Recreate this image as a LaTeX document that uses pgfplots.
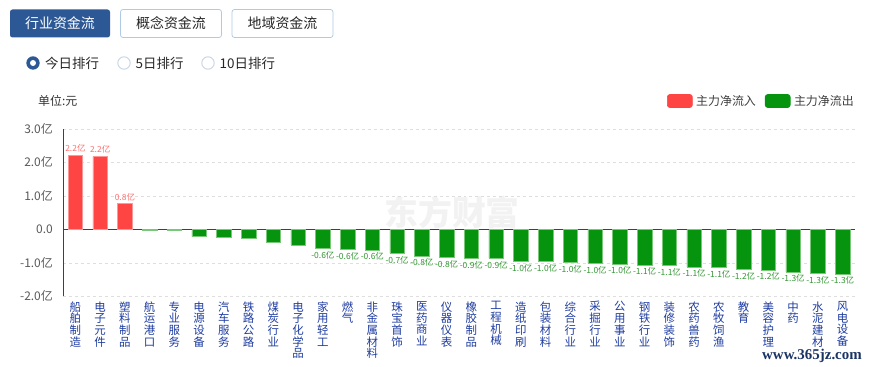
\documentclass[border=0pt]{standalone}
\usepackage{fontspec}
\setmainfont{Noto Sans CJK SC}
\newfontfamily\serifwm{Liberation Serif}
\usepackage{pgfplots}
\pgfplotsset{compat=1.18}
\definecolor{upred}{RGB}{255,68,68}
\definecolor{upredb}{RGB}{255,150,150}
\definecolor{dngreen}{RGB}{6,148,14}
\definecolor{dngreenb}{RGB}{120,200,120}
\definecolor{btnblue}{RGB}{45,88,150}
\definecolor{btnborder}{RGB}{176,202,228}
\definecolor{radioborder}{RGB}{200,214,230}
\definecolor{catblue}{RGB}{30,60,160}
\definecolor{redlbl}{RGB}{255,110,110}
\definecolor{greenlbl}{RGB}{50,150,50}
\definecolor{wmblue}{RGB}{26,51,101}
\begin{document}
\begin{tikzpicture}
\useasboundingbox (0,0) rectangle (870bp,367bp);
\begin{scope}[x=1bp,y=-1bp,yshift=367bp]
  % tab buttons
  \fill[btnblue, rounded corners=2.5bp] (10,9.5) rectangle (110,37.5);
  \node[text=white, font=\fontsize{14}{14}\selectfont] at (60,23.5) {行业资金流};
  \draw[btnborder, rounded corners=2.5bp, line width=0.8bp] (120.5,9.5) rectangle (221.5,37.5);
  \node[text=black!85, font=\fontsize{14}{14}\selectfont] at (171,23.5) {概念资金流};
  \draw[btnborder, rounded corners=2.5bp, line width=0.8bp] (232,9.5) rectangle (333,37.5);
  \node[text=black!85, font=\fontsize{14}{14}\selectfont] at (282.5,23.5) {地域资金流};
  % radio row
  \fill[btnblue] (33,63) circle (6.7);
  \fill[white] (33,63) circle (3);
  \node[anchor=west, inner sep=0pt, text=black!85, font=\fontsize{13.5}{13.5}\selectfont] at (45,63) {今日排行};
  \draw[radioborder, line width=1bp] (124,63) circle (6.2);
  \node[anchor=west, inner sep=0pt, text=black!85, font=\fontsize{13.5}{13.5}\selectfont] at (135.5,63) {5日排行};
  \draw[radioborder, line width=1bp] (208,63) circle (6.2);
  \node[anchor=west, inner sep=0pt, text=black!85, font=\fontsize{13.5}{13.5}\selectfont] at (219.5,63) {10日排行};
  % unit
  \node[anchor=west, inner sep=0pt, text=black!80, font=\fontsize{12}{12}\selectfont] at (38,101) {单位:元};
  % watermarks
  \node[text=black!5, font=\fontsize{34}{34}\selectfont\bfseries] at (452,212) {东方财富};
  \node[anchor=east, inner sep=0pt, text=wmblue, font=\serifwm\bfseries\fontsize{15}{15}\selectfont] at (862,356) {www.365jz.com};
\end{scope}
\begin{axis}[
  scale only axis, width=792bp, height=167.5bp,
  at={(63bp,70.7bp)}, anchor=south west,
  xmin=0.5, xmax=32.5, ymin=-2, ymax=3,
  ybar, bar width=14.5bp, bar shift=0pt,
  axis lines*=left,
  axis line style={-},
  x axis line style={draw=none},
  y axis line style={draw=black!75, line width=0.8bp},
  major tick length=0pt,
  ytick={-2,-1,0,1,2,3},
  yticklabels={-2.0亿,-1.0亿,0.0,1.0亿,2.0亿,3.0亿},
  yticklabel style={font=\fontsize{12}{12}\selectfont, text=black!65, inner sep=0pt, anchor=east, xshift=-10bp},
  xtick={1,...,32},
  xticklabels={{船\\舶\\制\\造},{电\\子\\元\\件},{塑\\料\\制\\品},{航\\运\\港\\口},{专\\业\\服\\务},{电\\源\\设\\备},{汽\\车\\服\\务},{铁\\路\\公\\路},{煤\\炭\\行\\业},{电\\子\\化\\学\\品},{家\\用\\轻\\工},{燃\\气},{非\\金\\属\\材\\料},{珠\\宝\\首\\饰},{医\\药\\商\\业},{仪\\器\\仪\\表},{橡\\胶\\制\\品},{工\\程\\机\\械},{造\\纸\\印\\刷},{包\\装\\材\\料},{综\\合\\行\\业},{采\\掘\\行\\业},{公\\用\\事\\业},{钢\\铁\\行\\业},{装\\修\\装\\饰},{农\\药\\兽\\药},{农\\牧\\饲\\渔},{教\\育},{美\\容\\护\\理},{中\\药},{水\\泥\\建\\材},{风\\电\\设\\备}},
  xticklabel style={font=\fontsize{11.5}{11.75}\selectfont, text=catblue, align=center, anchor=north, inner sep=0pt, yshift=-5bp},
  ymajorgrids, grid style={dashed, draw=black!13, line width=0.6bp},
  extra y ticks={0}, extra y tick labels={},
  extra y tick style={grid style={solid, draw=black!75, line width=0.8bp}},
  clip=false,
  legend columns=2,
  legend style={at={(1.005,1.166)}, anchor=east, draw=none, fill=none,
    font=\fontsize{12}{12}\selectfont, text=black!75,
    /tikz/every odd column/.append style={column sep=1.5bp},
    /tikz/every even column/.append style={column sep=7bp}},
]
\addplot[fill=upred, draw=upredb, line width=0.6bp,
  legend image code/.code={\fill[upred, rounded corners=2.5bp] (0bp,-6.5bp) rectangle (25bp,6.5bp);},
  nodes near coords, point meta=explicit symbolic,
  every node near coord/.append style={font=\fontsize{8.5}{8.5}\selectfont, text=redlbl, inner sep=2.5bp, anchor=south}]
  coordinates {(1,2.21) [2.2亿] (2,2.18) [2.2亿] (3,0.77) [0.8亿]};
\addlegendentry{主力净流入}
\addplot[fill=dngreen, draw=dngreenb, line width=0.6bp,
  legend image code/.code={\fill[dngreen, rounded corners=2.5bp] (0bp,-6.5bp) rectangle (25bp,6.5bp);}]
  coordinates {(4,-0.03) (5,-0.03) (6,-0.22) (7,-0.24) (8,-0.26) (9,-0.40) (10,-0.47)};
\addlegendentry{主力净流出}
\addplot[forget plot, fill=dngreen, draw=dngreenb, line width=0.6bp,
  nodes near coords, point meta=explicit symbolic,
  every node near coord/.append style={font=\fontsize{8.5}{8.5}\selectfont, text=greenlbl, inner sep=2.5bp, anchor=north}]
  coordinates {(11,-0.57) [-0.6亿] (12,-0.60) [-0.6亿] (13,-0.62) [-0.6亿] (14,-0.72) [-0.7亿]
    (15,-0.80) [-0.8亿] (16,-0.83) [-0.8亿] (17,-0.86) [-0.9亿] (18,-0.87) [-0.9亿]
    (19,-0.96) [-1.0亿] (20,-0.97) [-1.0亿] (21,-0.99) [-1.0亿] (22,-1.02) [-1.0亿]
    (23,-1.03) [-1.0亿] (24,-1.06) [-1.1亿] (25,-1.08) [-1.1亿] (26,-1.12) [-1.1亿]
    (27,-1.14) [-1.1亿] (28,-1.19) [-1.2亿] (29,-1.21) [-1.2亿] (30,-1.27) [-1.3亿]
    (31,-1.31) [-1.3亿] (32,-1.33) [-1.3亿]};
\end{axis}
\end{tikzpicture}
\end{document}
